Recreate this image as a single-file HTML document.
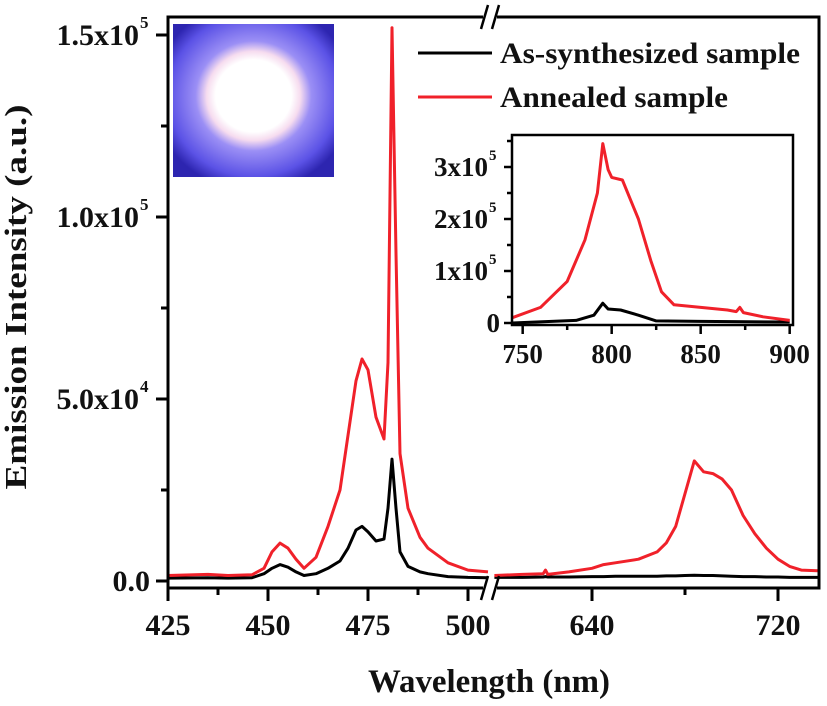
<!DOCTYPE html>
<html><head><meta charset="utf-8"><style>
body{margin:0;background:#fff}
svg text{font-family:"Liberation Serif",serif;font-weight:bold;fill:#111}
</style></head><body>
<svg id="c" width="827" height="701" viewBox="0 0 827 701" xmlns="http://www.w3.org/2000/svg">
<defs>
<radialGradient id="glow" cx="50%" cy="47%" r="62%">
<stop offset="0" stop-color="#fff"/><stop offset="0.38" stop-color="#fff"/><stop offset="0.47" stop-color="#f6dcef"/><stop offset="0.58" stop-color="#9b8ff5"/><stop offset="0.85" stop-color="#5b52e6"/><stop offset="1" stop-color="#2d25b0"/>
</radialGradient>
</defs>
<rect x="173" y="24" width="161" height="153" fill="url(#glow)"/>
<g id="main"></g>
<g id="inset"></g>
<g>
<line x1="418" y1="53" x2="492" y2="53" stroke="#000" stroke-width="3"/>
<text x="500" y="63" font-size="30" textLength="300" lengthAdjust="spacingAndGlyphs">As-synthesized sample</text>
<line x1="418" y1="97" x2="492" y2="97" stroke="#f0212a" stroke-width="3"/>
<text x="500" y="107" font-size="30" textLength="228" lengthAdjust="spacingAndGlyphs">Annealed sample</text>
</g>
<text x="489" y="692" font-size="33" text-anchor="middle" textLength="242" lengthAdjust="spacingAndGlyphs">Wavelength (nm)</text>
<text transform="translate(26,297) rotate(-90)" font-size="31" text-anchor="middle" textLength="385" lengthAdjust="spacingAndGlyphs">Emission Intensity (a.u.)</text>
</svg>
<script>
// main chart data
const leftNm=[425,435,440,446,449,451,453,455,457,459,462,465,468,470,472,473.5,475,477,479,480,481,482,483,485,488,490,495,500,505];
const leftRed=[1500,1800,1500,1700,3500,8000,10400,9000,6000,3500,6500,15000,25000,40000,55000,61000,58000,45000,39000,60000,152000,90000,35000,20000,12000,9000,5000,3000,2500];
const leftBlack=[800,900,800,900,2000,3500,4500,3800,2500,1500,2000,3500,5500,9000,14000,15000,13500,11000,11500,20000,33500,20000,8000,4000,2500,2000,1200,1000,900];
const rightNm=[598,610,619,620,621,630,640,645,650,660,668,672,676,680,684,688,692,696,700,705,710,715,720,725,730,737];
const rightRed=[1500,1800,2000,3000,1800,2500,3500,4500,5000,6000,8000,10500,15000,24000,33000,30000,29500,28000,25000,18000,13000,9000,6000,4000,3000,2800];
const rightBlack=[1000,1000,1100,1200,1100,1100,1200,1200,1300,1300,1300,1400,1400,1500,1600,1500,1500,1400,1300,1200,1200,1100,1100,1000,1000,1000];
const yTicks=[0,50000,100000,150000];
const yTickLabels=["0.0","5.0x10^4","1.0x10^5","1.5x10^5"];
const xTicksLeft=[425,450,475,500];
const xTicksRight=[640,720];
// inset data
const insetNm=[744,760,775,785,792,795,798,800,806,815,822,828,835,850,865,870,872,874,885,900];
const insetRed=[10000,30000,80000,160000,250000,345000,295000,280000,275000,200000,120000,60000,35000,30000,25000,22000,30000,20000,12000,5000];
const insetBlackNm=[744,780,790,795,798,805,815,825,850,900];
const insetBlack=[0,5000,15000,38000,27000,25000,15000,4000,3000,2000];
const insetYTicks=[0,100000,200000,300000];
const insetYLabels=["0","1x10^5","2x10^5","3x10^5"];
const insetXTicks=[750,800,850,900];

const NS="http://www.w3.org/2000/svg";
function mk(parent,tag,attrs){const e=document.createElementNS(NS,tag);for(const k in attrs)e.setAttribute(k,attrs[k]);parent.appendChild(e);return e;}
const xL=nm=>168+(nm-425)*4;
const xR=nm=>592+(nm-640)*2.325;
const yM=v=>581-v*(546/150000);
const xI=nm=>512+(nm-744)*1.78;
const yI=v=>323-v*52/100000;

const main=document.getElementById('main');
function path(g,xs,ys,fx,fy,col,name,w){
  const d=xs.map((x,i)=>(i?'L':'M')+fx(x).toFixed(1)+','+fy(ys[i]).toFixed(1)).join('');
  const p=mk(g,'path',{d:d,fill:'none',stroke:col,'stroke-width':w,'stroke-linejoin':'round'});
  
  
}
path(main,leftNm,leftBlack,xL,yM,'#000','as-synthesized-line-left',3);
path(main,leftNm,leftRed,xL,yM,'#f0212a','annealed-line-left',3);
path(main,rightNm,rightBlack,xR,yM,'#000','as-synthesized-line-right',3);
path(main,rightNm,rightRed,xR,yM,'#f0212a','annealed-line-right',3);

const fr=mk(main,'path',{d:'M168,588V17H819V588H168',fill:'none',stroke:'#000','stroke-width':3});


[[490,17],[490,588]].forEach(([bx,by],i)=>{
  mk(main,'rect',{x:bx-7,y:by-3,width:14,height:6,fill:'#fff'});
  const b=mk(main,'path',{d:`M${bx-9},${by+12}L${bx-2},${by-12}M${bx+2},${by+12}L${bx+9},${by-12}`,stroke:'#000','stroke-width':2.5,fill:'none'});
  
  
});
yTicks.forEach((v,i)=>{
  mk(main,'line',{x1:156,x2:168,y1:yM(v),y2:yM(v),stroke:'#000','stroke-width':3});
  if(i<yTicks.length-1){const m=v+25000;mk(main,'line',{x1:161,x2:168,y1:yM(m),y2:yM(m),stroke:'#000','stroke-width':3});}
  const parts=yTickLabels[i].split('^');
  const t=mk(main,'text',{x:parts[1]?139:150,y:yM(v)+10,'font-size':30,'text-anchor':'end'});
  t.textContent=parts[0];
  
  
  if(parts[1]){const s=mk(main,'text',{x:140,y:yM(v)-7,'font-size':17});s.textContent=parts[1];
  
  }
});
function xtick(x,label,minor){
  mk(main,'line',{x1:x,x2:x,y1:588,y2:minor?595:601,stroke:'#000','stroke-width':3});
  if(label!==null){const t=mk(main,'text',{x:x,y:635,'font-size':30,'text-anchor':'middle'});t.textContent=label;
  
  }
}
xTicksLeft.forEach(v=>xtick(xL(v),String(v),false));
[437.5,462.5,487.5].forEach(v=>xtick(xL(v),null,true));
xTicksRight.forEach(v=>xtick(xR(v),String(v),false));
xtick(xR(680),null,true);

const ins=document.getElementById('inset');
mk(ins,'rect',{x:512,y:135,width:281,height:190,fill:'#fff'});
path(ins,insetBlackNm,insetBlack,xI,yI,'#000','inset-as-synthesized-line',3);
path(ins,insetNm,insetRed,xI,yI,'#f0212a','inset-annealed-line',3);
const ifr=mk(ins,'rect',{x:512,y:135,width:281,height:190,fill:'none',stroke:'#000','stroke-width':2.5});


insetYTicks.forEach((v,i)=>{
  mk(ins,'line',{x1:504,x2:512,y1:yI(v),y2:yI(v),stroke:'#000','stroke-width':2.5});
  mk(ins,'line',{x1:507,x2:512,y1:yI(v+50000),y2:yI(v+50000),stroke:'#000','stroke-width':2.5});
  const parts=insetYLabels[i].split('^');
  const t=mk(ins,'text',{x:parts[1]?488:500,y:yI(v)+9,'font-size':27,'text-anchor':'end'});t.textContent=parts[0];
  
  
  if(parts[1]){const s=mk(ins,'text',{x:489,y:yI(v)-7,'font-size':15});s.textContent=parts[1];
  
  }
});
insetXTicks.forEach(v=>{
  mk(ins,'line',{x1:xI(v),x2:xI(v),y1:325,y2:334,stroke:'#000','stroke-width':2.5});
  mk(ins,'line',{x1:xI(v+25),x2:xI(v+25),y1:325,y2:330,stroke:'#000','stroke-width':2.5});
  const t=mk(ins,'text',{x:xI(v),y:363,'font-size':27,'text-anchor':'middle'});t.textContent=String(v);
  
  
});
</script>
</body></html>
